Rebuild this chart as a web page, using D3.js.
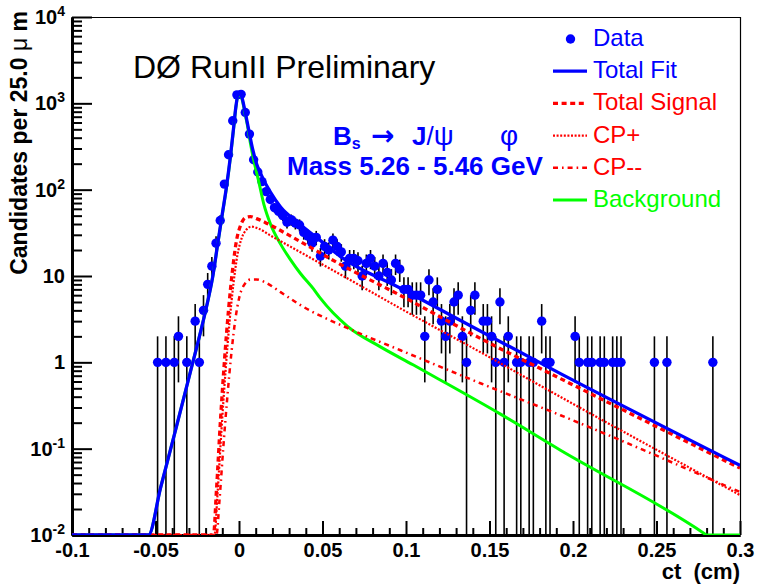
<!DOCTYPE html>
<html>
<head>
<meta charset="utf-8">
<script src="https://cdn.jsdelivr.net/npm/d3@7"></script>
<style>
  body { margin: 0; background: #fff; }
  svg { display: block; }
  text { font-family: "Liberation Sans", Arial, Helvetica, sans-serif; }
</style>
</head>
<body>
<svg id="chart" width="757" height="586"></svg>
<script>
// ---- axis ranges and tick labels ----
const xDomain = [-0.1, 0.3];
const yDomain = [0.01, 10000];
const xMajorTicks = [-0.1, -0.05, 0, 0.05, 0.1, 0.15, 0.2, 0.25, 0.3];
const xTickLabels = ["-0.1", "-0.05", "0", "0.05", "0.1", "0.15", "0.2", "0.25", "0.3"];
const yMajorTicks = [0.01, 0.1, 1, 10, 100, 1000, 10000];
const yTickBase = ["10", "10", "1", "10", "10", "10", "10"];
const yTickExp = ["-2", "-1", "", "", "2", "3", "4"];

// ---- histogram: bin centres (cm) and candidate counts per 25 um ----
const binCenters = [
  -0.04875, -0.04375, -0.03875, -0.03625, -0.03125, -0.02625, -0.02375, -0.02125,
  -0.01875, -0.01625, -0.01375, -0.01125, -0.00875, -0.00625, -0.00375, -0.00125,
  0.00125, 0.00375, 0.00625, 0.00875, 0.01125, 0.01375, 0.01625, 0.01875,
  0.02125, 0.02375, 0.02625, 0.02875, 0.03125, 0.03375, 0.03625,
  0.03875, 0.04125, 0.04375, 0.04625, 0.04875, 0.05125, 0.05375, 0.05625, 0.05875,
  0.06125, 0.06375, 0.06625, 0.06875, 0.07125, 0.07375, 0.07625, 0.07875,
  0.08125, 0.08375, 0.08625, 0.08875, 0.09125, 0.09375, 0.09625,
  0.09875, 0.10125, 0.10375, 0.10625, 0.10875,
  0.11125, 0.11375, 0.11625, 0.11875, 0.12125, 0.12375, 0.12625, 0.12875,
  0.13125, 0.13375, 0.13625, 0.13875, 0.14125,
  0.14625, 0.14875, 0.15125, 0.15375, 0.15625, 0.15875, 0.16125, 0.16625,
  0.16875, 0.17375, 0.17625, 0.18125, 0.18375, 0.18625,
  0.20125, 0.20375, 0.20875, 0.21125, 0.21625, 0.21875, 0.22375, 0.22625,
  0.22875, 0.24875, 0.25625, 0.28375
];
const counts = [
  1, 1, 1, 2, 1, 3, 1, 4,
  8, 13, 24, 44, 116, 254, 628, 1254,
  1270, 783, 440, 222, 160, 124, 95, 77,
  62, 56, 50, 42, 45, 41, 39,
  32, 29, 24, 28, 17, 22, 20, 26, 22,
  19, 13, 16, 16, 15, 10, 14, 16,
  13, 10, 14, 11, 9, 14, 12,
  7, 7, 6, 6, 6,
  2, 9, 5, 7, 3, 2, 3, 5,
  6, 2, 1, 4, 6,
  3, 3, 2, 1, 5, 1, 2, 1,
  1, 1, 1, 3, 1, 1,
  2, 1, 1, 1, 1, 1, 1, 1,
  1, 1, 1, 1
];

// ---- fit projections: [ct (cm), candidates per bin] ----
const totalFit = [
  [-0.1, 0.01], [-0.0542, 0.01], [-0.047, 0.035], [-0.038, 0.164], [-0.029, 0.79],
  [-0.0231, 2.22], [-0.0189, 4.9], [-0.0159, 9.4], [-0.0129, 22.5], [-0.0099, 54],
  [-0.0075, 108], [-0.0051, 247], [-0.0033, 507], [-0.0018, 936], [-0.0006, 1253],
  [0.0006, 1288], [0.0018, 1158], [0.0033, 863], [0.0057, 507], [0.0081, 298],
  [0.0105, 200], [0.0141, 138], [0.0189, 93], [0.0249, 63], [0.035, 42],
  [0.0488, 25.7], [0.0608, 16.8], [0.0967, 7.2], [0.1925, 0.74], [0.3, 0.064]
];
const totalSignal = [
  [-0.1, 0.01], [-0.0153, 0.01], [-0.0135, 0.033], [-0.0111, 0.213], [-0.0087, 1.05],
  [-0.0063, 4.0], [-0.0039, 11.6], [-0.0015, 25.7], [0.0009, 38.4], [0.0039, 47.5],
  [0.0069, 48.7], [0.0105, 46.2], [0.0159, 41.5], [0.0249, 33.6], [0.0368, 25.0],
  [0.0608, 13.6], [0.0967, 5.95], [0.1446, 1.89], [0.1925, 0.648], [0.3, 0.0595]
];
const cpPlus = [
  [-0.1, 0.01], [-0.0147, 0.01], [-0.0129, 0.029], [-0.0105, 0.164], [-0.0081, 0.77],
  [-0.0057, 2.9], [-0.0033, 8.2], [-0.0009, 17.7], [0.0015, 27.1], [0.0045, 34.5],
  [0.0075, 37.3], [0.0117, 35.4], [0.0189, 29.4], [0.0308, 21.9], [0.0608, 10.4],
  [0.0967, 4.21], [0.1446, 1.31], [0.1925, 0.397], [0.3, 0.029]
];
const cpMinus = [
  [-0.1, 0.01], [-0.0135, 0.01], [-0.0117, 0.025], [-0.0093, 0.11], [-0.0069, 0.415],
  [-0.0045, 1.31], [-0.0021, 3.23], [0.0003, 5.8], [0.0033, 8.0], [0.0069, 9.1],
  [0.0105, 9.1], [0.0159, 8.4], [0.0249, 6.5], [0.0368, 4.6], [0.0648, 2.5],
  [0.0967, 1.38], [0.1446, 0.572], [0.1925, 0.244], [0.3, 0.0314]
];
const background = [
  [-0.1, 0.01], [-0.0542, 0.01], [-0.047, 0.035], [-0.038, 0.164], [-0.029, 0.79],
  [-0.0231, 2.22], [-0.0189, 4.9], [-0.0159, 9.4], [-0.0129, 22.4], [-0.0099, 53],
  [-0.0075, 105], [-0.0051, 240], [-0.0033, 495], [-0.0018, 915], [-0.0006, 1225],
  [0.0006, 1255], [0.0018, 1120], [0.0033, 819], [0.0051, 550], [0.0069, 340],
  [0.0089, 216], [0.0117, 127], [0.0149, 67.6], [0.0189, 39.8], [0.0249, 23.4],
  [0.0308, 15.5], [0.0368, 10.7], [0.0446, 7.08], [0.0488, 5.5], [0.0648, 2.63],
  [0.0847, 1.51], [0.1045, 0.93], [0.1165, 0.69], [0.1566, 0.251], [0.1925, 0.096],
  [0.2783, 0.0105], [0.2799, 0.01], [0.3, 0.01]
];

// ---- legend text ----
const legendLabels = ["Data", "Total Fit", "Total Signal", "CP+", "CP--", "Background"];

// ---- drawing ----
const W = 757, H = 586;
const frame = { left: 72, right: 740, top: 17, bottom: 535 };
const BLUE = "#0000ff", RED = "#ff0000", GREEN = "#00ff00";

const x = d3.scaleLinear().domain(xDomain).range([frame.left, frame.right]);
const y = d3.scaleLog().domain(yDomain).range([frame.bottom, frame.top]);

const svg = d3.select("#chart");
svg.append("rect").attr("width", W).attr("height", H).attr("fill", "#fff");

svg.append("defs").append("clipPath").attr("id", "frameClip")
  .append("rect")
  .attr("x", frame.left).attr("y", frame.top - 2)
  .attr("width", frame.right - frame.left)
  .attr("height", frame.bottom - frame.top + 2);

// thin frame on top and right
svg.append("path")
  .attr("d", `M${frame.left},${frame.top + 0.5}H${frame.right + 0.5}V${frame.bottom}`)
  .attr("fill", "none").attr("stroke", "#000").attr("stroke-width", 1.2);

// x axis: major and minor ticks pointing inwards
const xMinor = d3.range(-9, 30).map(k => k / 100).filter(v => Math.abs(v * 20 - Math.round(v * 20)) > 1e-6);
const gxMinor = svg.append("g").attr("transform", `translate(0,${frame.bottom})`)
  .call(d3.axisBottom(x).tickValues(xMinor).tickSize(-7).tickSizeOuter(0).tickFormat(""));
const gx = svg.append("g").attr("transform", `translate(0,${frame.bottom})`)
  .call(d3.axisBottom(x).tickValues(xMajorTicks).tickSize(-14).tickSizeOuter(0)
        .tickPadding(8).tickFormat((d, i) => xTickLabels[i]));

// y axis: log decades plus 2..9 sub-ticks
const yMinor = [];
for (let e = -2; e < 4; e++) for (let m = 2; m <= 9; m++) yMinor.push(m * Math.pow(10, e));
const gyMinor = svg.append("g").attr("transform", `translate(${frame.left},0)`)
  .call(d3.axisLeft(y).tickValues(yMinor).tickSize(-10).tickSizeOuter(0).tickFormat(""));
const gy = svg.append("g").attr("transform", `translate(${frame.left},0)`)
  .call(d3.axisLeft(y).tickValues(yMajorTicks).tickSize(-20).tickSizeOuter(0)
        .tickPadding(7).tickFormat(""));

[gxMinor, gx, gyMinor, gy].forEach(g => {
  g.selectAll(".tick line").attr("stroke", "#000").attr("stroke-width", 2);
  g.select(".domain").attr("stroke", "#000").attr("stroke-width", 3);
});
gx.selectAll(".tick text")
  .attr("font-size", 20).attr("font-weight", "bold").attr("fill", "#000");

gy.selectAll(".tick text").each(function (d, i) {
  const t = d3.select(this)
    .attr("font-size", 20).attr("font-weight", "bold").attr("fill", "#000")
    .attr("dy", "0.33em");
  t.append("tspan").text(yTickBase[i]);
  if (yTickExp[i]) {
    t.append("tspan").attr("font-size", 14).attr("dy", -8).text(yTickExp[i]);
  }
});

// axis titles
svg.append("text")
  .attr("x", frame.right).attr("y", 579)
  .attr("text-anchor", "end").attr("font-size", 22).attr("font-weight", "bold")
  .style("white-space", "pre")
  .text("ct  (cm)");

const yTitle = svg.append("text")
  .attr("transform", `translate(27,${frame.top - 6}) rotate(-90)`)
  .attr("text-anchor", "end").attr("font-size", 23).attr("font-weight", "bold")
  .style("white-space", "pre");
yTitle.append("tspan").text("Candidates per 25.0 ");
yTitle.append("tspan").attr("font-weight", "normal").text("\u03bc");
yTitle.append("tspan").text(" m");

// data: sqrt(N) error bars and filled markers
const plotG = svg.append("g");
const pts = binCenters.map((c, i) => ({ c, n: counts[i] }));
plotG.selectAll("line.err").data(pts).join("line")
  .attr("class", "err")
  .attr("x1", d => x(d.c)).attr("x2", d => x(d.c))
  .attr("y1", d => y(d.n + Math.sqrt(d.n)))
  .attr("y2", d => {
    const lo = d.n - Math.sqrt(d.n);
    return lo > yDomain[0] ? y(lo) : frame.bottom;
  })
  .attr("stroke", "#000").attr("stroke-width", 1.6);
plotG.selectAll("circle.pt").data(pts).join("circle")
  .attr("class", "pt")
  .attr("cx", d => x(d.c)).attr("cy", d => y(d.n)).attr("r", 4.7)
  .attr("fill", BLUE);

// fit curves
const line = d3.line()
  .x(d => x(d[0]))
  .y(d => y(Math.max(d[1], yDomain[0])))
  .curve(d3.curveMonotoneX);

const curveStyles = [
  { data: background, color: GREEN, width: 3, dash: null },
  { data: cpMinus, color: RED, width: 2.5, dash: "5,4,1.6,4" },
  { data: cpPlus, color: RED, width: 2.2, dash: "2,1.6" },
  { data: totalSignal, color: RED, width: 3.3, dash: "5,3.6" },
  { data: totalFit, color: BLUE, width: 3.3, dash: null }
];
const curveG = svg.append("g").attr("clip-path", "url(#frameClip)");
curveStyles.forEach(s => {
  curveG.append("path")
    .attr("d", line(s.data))
    .attr("fill", "none")
    .attr("stroke", s.color)
    .attr("stroke-width", s.width)
    .attr("stroke-dasharray", s.dash);
});

// annotations
svg.append("text")
  .attr("x", 133).attr("y", 78)
  .attr("font-size", 32).attr("fill", "#000")
  .text("D\u00d8 RunII Preliminary");

const decay = svg.append("text").attr("y", 145).attr("fill", BLUE)
  .attr("font-size", 26).attr("font-weight", "bold");
decay.append("tspan").attr("x", 333).text("B");
decay.append("tspan").attr("font-size", 16).attr("dy", 4).text("s");
decay.append("tspan").attr("x", 371).attr("dy", -4)
  .style("font-family", "'DejaVu Sans', sans-serif").attr("font-size", 28).text("\u2192");
decay.append("tspan").attr("x", 412).text("J");
decay.append("tspan").attr("font-weight", "normal").text("/");
decay.append("tspan").attr("font-weight", "normal").attr("font-size", 28).text("\u03c8");
decay.append("tspan").attr("x", 500).attr("font-weight", "normal").attr("font-size", 28).text("\u03c6");

svg.append("text")
  .attr("x", 287).attr("y", 175).attr("fill", BLUE)
  .attr("font-size", 26).attr("font-weight", "bold")
  .style("white-space", "pre")
  .text("Mass 5.26 - 5.46 GeV");

// legend
const legendStyles = [
  { color: BLUE, kind: "marker" },
  { color: BLUE, kind: "line", width: 3.3, dash: null },
  { color: RED, kind: "line", width: 3.3, dash: "5,3.6" },
  { color: RED, kind: "line", width: 2.2, dash: "2,1.6" },
  { color: RED, kind: "line", width: 2.5, dash: "5,4,1.6,4" },
  { color: GREEN, kind: "line", width: 3, dash: null }
];
const legend = svg.append("g");
legendLabels.forEach((label, i) => {
  const s = legendStyles[i];
  const base = 46 + i * 32.2;
  const cy = base - 7;
  if (s.kind === "marker") {
    legend.append("circle").attr("cx", 570.5).attr("cy", cy).attr("r", 4.7).attr("fill", s.color);
  } else {
    legend.append("line")
      .attr("x1", 553).attr("x2", 587).attr("y1", cy).attr("y2", cy)
      .attr("stroke", s.color).attr("stroke-width", s.width)
      .attr("stroke-dasharray", s.dash);
  }
  legend.append("text")
    .attr("x", 593).attr("y", base)
    .attr("font-size", 24).attr("fill", s.color)
    .text(label);
});
</script>
</body>
</html>
